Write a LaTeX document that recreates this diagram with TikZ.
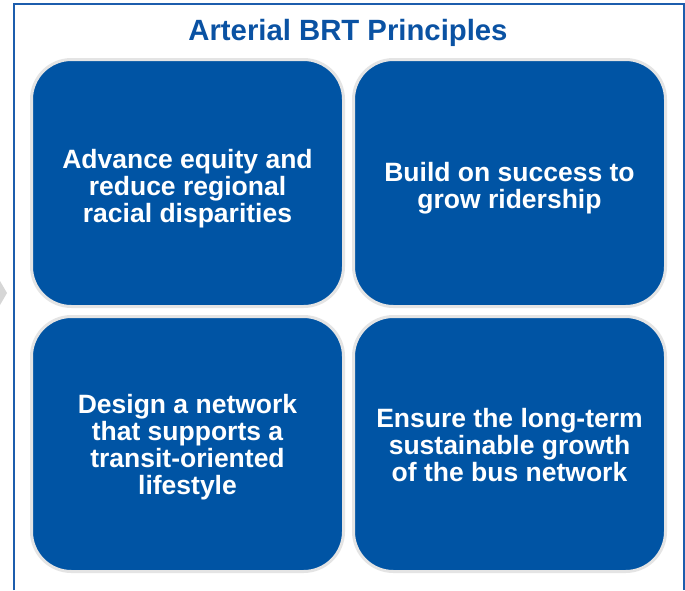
\documentclass[tikz,border=0pt]{standalone}
\usepackage{fontspec}
\setmainfont{Liberation Sans}
\definecolor{brtblue}{HTML}{0054A4}
\definecolor{titleblue}{HTML}{0A52A3}
\definecolor{frameblue}{HTML}{1C5DAD}
\definecolor{edgegrey}{HTML}{E4E4E4}
\definecolor{chevgrey}{HTML}{D6D6D6}
\begin{document}
\begin{tikzpicture}[x=1pt,y=-1pt,
  card/.style={draw=edgegrey, line width=3pt, fill=brtblue, rounded corners=40pt,
    minimum width=312pt, inner sep=0pt},
  topcard/.style={card, minimum height=247pt},
  botcard/.style={card, minimum height=255pt},
  cardtext/.style={align=center, text=white, inner sep=0pt,
    font=\fontsize{26.5}{27}\selectfont\bfseries},
  titletext/.style={text=titleblue, font=\fontsize{29.3}{31}\selectfont\bfseries, inner sep=0pt}]
\useasboundingbox (0,0) rectangle (685,590);
\fill[white] (0,0) rectangle (685,590);
\fill[chevgrey] (0,281) -- (7,293) -- (0,305) -- cycle;
\draw[frameblue, line width=2pt] (14,590) -- (14,4) -- (684,4) -- (684,590);
\node[titletext] (title) at (348,33) {Arterial BRT Principles};
\node[topcard] (equity) at (187.5,183) {};
\node[topcard] (success) at (509.5,183) {};
\node[botcard] (design) at (187.5,444) {};
\node[botcard] (ensure) at (509.5,444) {};
\node[cardtext] (equitytxt) at ([yshift=-5.5pt]equity.center) {Advance equity and\\reduce regional\\racial disparities};
\node[cardtext] (successtxt) at ([yshift=-5.5pt]success.center) {Build on success to\\grow ridership};
\node[cardtext] (designtxt) at ([yshift=-3.5pt]design.center) {Design a network\\that supports a\\transit-oriented\\lifestyle};
\node[cardtext] (ensuretxt) at ([yshift=-1pt]ensure.center) {Ensure the long-term\\sustainable growth\\of the bus network};
\end{tikzpicture}
\end{document}
